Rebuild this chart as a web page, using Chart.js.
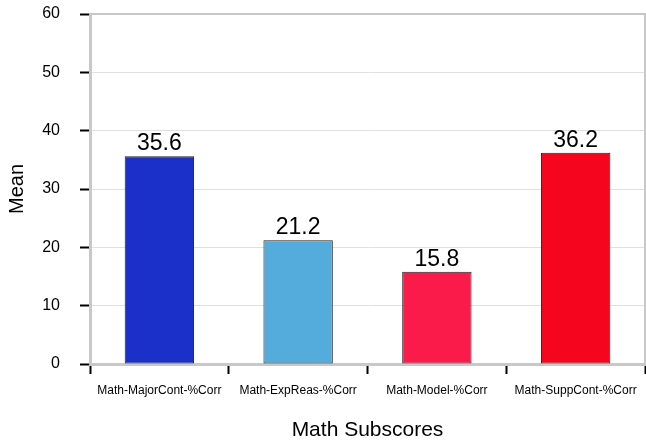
<!DOCTYPE html>
<html>
<head>
<meta charset="utf-8">
<script src="https://cdn.jsdelivr.net/npm/chart.js@4"></script>
<style>
  html, body { margin: 0; padding: 0; background: #ffffff; }
  #wrap { width: 646px; height: 444px; }
</style>
</head>
<body>
<div id="wrap"><canvas id="c" width="646" height="444"></canvas></div>
<script>
const categories = ['Math-MajorCont-%Corr', 'Math-ExpReas-%Corr', 'Math-Model-%Corr', 'Math-SuppCont-%Corr'];
const means = [35.6, 21.2, 15.8, 36.2];
const barColors = ['#1b30c8', '#54acdc', '#fb1b4b', '#f5051e'];
const yTicks = [0, 10, 20, 30, 40, 50, 60];
const xTitle = 'Math Subscores';
const yTitle = 'Mean';

const FONT = "'Liberation Sans', Arial, Helvetica, sans-serif";

const framePlugin = {
  id: 'frame',
  beforeDatasetsDraw(chart) {
    const a = chart.chartArea, ctx = chart.ctx;
    ctx.save();
    ctx.strokeStyle = '#c8c8c8';
    ctx.lineWidth = 2;
    ctx.beginPath();
    ctx.moveTo(a.left, a.top);
    ctx.lineTo(a.right, a.top);
    ctx.lineTo(a.right, a.bottom);
    ctx.stroke();
    ctx.restore();
  }
};

const valueLabels = {
  id: 'valueLabels',
  afterDatasetsDraw(chart) {
    const ctx = chart.ctx;
    const meta = chart.getDatasetMeta(0);
    ctx.save();
    ctx.font = '23px ' + FONT;
    ctx.fillStyle = '#000';
    ctx.textAlign = 'center';
    ctx.textBaseline = 'alphabetic';
    meta.data.forEach((bar, i) => {
      ctx.fillText(means[i].toFixed(1), bar.x, bar.y - 6);
    });
    ctx.restore();
  }
};

new Chart(document.getElementById('c'), {
  type: 'bar',
  data: {
    labels: categories,
    datasets: [{
      data: means,
      backgroundColor: barColors,
      borderColor: '#222222',
      borderWidth: 1,
      borderSkipped: false,
      barPercentage: 0.5,
      categoryPercentage: 1.0
    }]
  },
  options: {
    responsive: false,
    animation: false,
    layout: { padding: { left: 0, right: 1, top: 14, bottom: 0 } },
    plugins: { legend: { display: false }, tooltip: { enabled: false }, title: { display: false } },
    scales: {
      x: {
        offset: true,
        afterFit(s) { s.height = 80; s.paddingLeft = 0; s.paddingRight = 0; },
        grid: {
          offset: true,
          drawOnChartArea: false,
          drawTicks: true,
          tickLength: 10,
          tickColor: '#000',
          tickWidth: 2
        },
        border: { display: true, color: '#c8c8c8', width: 3 },
        ticks: { color: '#000', font: { family: FONT, size: 12 }, padding: 9, maxRotation: 0, autoSkip: false },
        title: { display: true, text: xTitle, color: '#000', font: { family: FONT, size: 21 }, padding: { top: 0, bottom: 1 } }
      },
      y: {
        min: 0,
        max: 60,
        afterFit(s) { s.width = 90; s.paddingTop = 0; s.paddingBottom = 0; },
        afterBuildTicks(s) { s.ticks = yTicks.map(v => ({ value: v })); },
        grid: {
          color: '#e0e0e0',
          lineWidth: 1,
          drawTicks: true,
          tickLength: 10,
          tickColor: '#000',
          tickWidth: 2
        },
        border: { display: true, color: '#c8c8c8', width: 3 },
        ticks: { color: '#000', font: { family: FONT, size: 16 }, padding: 20 },
        title: { display: true, text: yTitle, color: '#000', font: { family: FONT, size: 20 }, padding: { top: 5, bottom: 0 } }
      }
    }
  },
  plugins: [framePlugin, valueLabels]
});
</script>
</body>
</html>
